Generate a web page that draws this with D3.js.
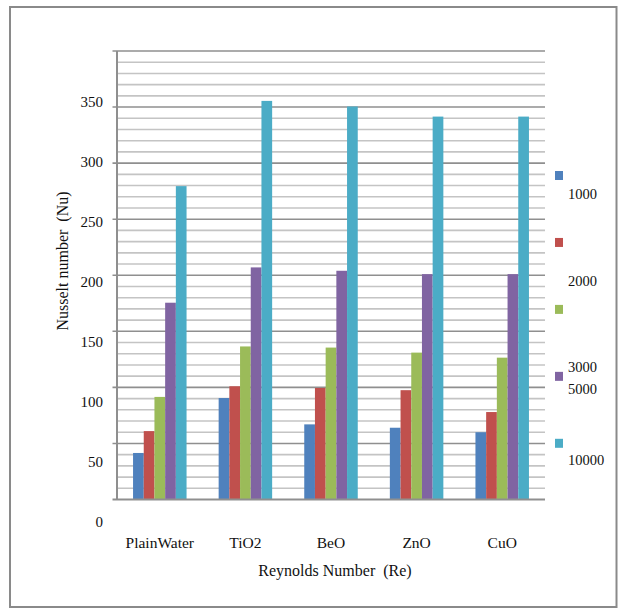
<!DOCTYPE html>
<html>
<head>
<meta charset="utf-8">
<script src="https://cdn.jsdelivr.net/npm/d3@7/dist/d3.min.js"></script>
<style>
  html, body { margin: 0; padding: 0; background: #ffffff; }
  svg { display: block; }
  svg text { font-family: 'Liberation Serif', 'Times New Roman', Times, 'DejaVu Serif', serif; }
</style>
</head>
<body>
<svg id="chart" width="619" height="609"></svg>
<script>
// Nusselt number for each fluid, one array per Reynolds number
const categories = ["PlainWater", "TiO2", "BeO", "ZnO", "CuO"];
const reynolds = ["1000", "2000", "3000", "5000", "10000"];
const nu1000  = [41.5, 90.5, 67, 64, 60];
const nu2000  = [61, 101, 99.5, 97.5, 78];
const nu3000  = [91.5, 136.5, 135.5, 131, 126.5];
const nu5000  = [175.5, 207, 204, 201, 201];
const nu10000 = [279.5, 355.5, 350.5, 341.5, 341.5];
const yTickLabels = [0, 50, 100, 150, 200, 250, 300, 350];
const seriesColors = ["#4f81bd", "#c0504d", "#9bbb59", "#8064a2", "#4bacc6"];

const serif = "'Liberation Serif', 'Times New Roman', Times, 'DejaVu Serif', serif";

const seriesValues = [nu1000, nu2000, nu3000, nu5000, nu10000];
const rows = categories.map((c, i) => ({
  category: c,
  values: reynolds.map((r, j) => ({ key: r, value: seriesValues[j][i] }))
}));

const svg = d3.select("#chart");

// outer frame
svg.append("rect")
  .attr("x", 10).attr("y", 7)
  .attr("width", 606.5).attr("height", 600)
  .attr("fill", "none").attr("stroke", "#8a8a8a").attr("stroke-width", 2);

const plot = { left: 117, right: 545, top: 51, bottom: 499.5 };

const x0 = d3.scaleBand().domain(categories).range([plot.left, plot.right]).paddingInner(0).paddingOuter(0);
const x1 = d3.scaleBand().domain(reynolds).range([0, x0.bandwidth()]).paddingInner(0).paddingOuter(1.5);
const y = d3.scaleLinear().domain([0, 400]).range([plot.bottom, plot.top]);
// the value labels of the axis sit on their own, slightly wider spacing
const yLabel = d3.scaleLinear().domain([0, 350]).range([521.7, 101.7]);

// gridlines: minor every 10, major every 50
const gridVals = d3.range(10, 401, 10);
svg.append("g").selectAll("line")
  .data(gridVals.filter(v => v % 50 !== 0))
  .join("line")
  .attr("x1", plot.left).attr("x2", plot.right)
  .attr("y1", d => y(d)).attr("y2", d => y(d))
  .attr("stroke", "#c4c4c4").attr("stroke-width", 1.6);

svg.append("g").selectAll("line")
  .data(gridVals.filter(v => v % 50 === 0))
  .join("line")
  .attr("x1", plot.left - 4.5).attr("x2", plot.right)
  .attr("y1", d => y(d)).attr("y2", d => y(d))
  .attr("stroke", "#8f8f8f").attr("stroke-width", 1.6);

// bars
const groups = svg.append("g").selectAll("g")
  .data(rows)
  .join("g")
  .attr("transform", d => `translate(${x0(d.category)},0)`);

groups.selectAll("rect")
  .data(d => d.values)
  .join("rect")
  .attr("x", d => x1(d.key))
  .attr("width", x1.bandwidth())
  .attr("y", d => y(d.value))
  .attr("height", d => y(0) - y(d.value))
  .attr("fill", (d, i) => seriesColors[i]);

// axis lines
svg.append("line")
  .attr("x1", plot.left).attr("x2", plot.left)
  .attr("y1", plot.top).attr("y2", plot.bottom)
  .attr("stroke", "#8f8f8f").attr("stroke-width", 2);
svg.append("line")
  .attr("x1", plot.left - 4.5).attr("x2", plot.right)
  .attr("y1", y(0)).attr("y2", y(0))
  .attr("stroke", "#8f8f8f").attr("stroke-width", 2);

// y tick labels
svg.append("g").selectAll("text")
  .data(yTickLabels)
  .join("text")
  .attr("x", 103)
  .attr("y", d => yLabel(d))
  .attr("dy", "0.35em")
  .attr("text-anchor", "end")
  .attr("font-family", serif)
  .attr("font-size", 15)
  .attr("fill", "#111")
  .text(d => d);

// category labels
svg.append("g").selectAll("text")
  .data(categories)
  .join("text")
  .attr("x", d => x0(d) + x0.bandwidth() / 2)
  .attr("y", 543)
  .attr("dy", "0.35em")
  .attr("text-anchor", "middle")
  .attr("font-family", serif)
  .attr("font-size", 15.5)
  .attr("fill", "#111")
  .text(d => d);

// axis titles
svg.append("text")
  .attr("x", 335).attr("y", 570)
  .attr("dy", "0.35em")
  .attr("text-anchor", "middle")
  .attr("font-family", serif)
  .attr("font-size", 16)
  .attr("fill", "#111")
  .style("white-space", "pre")
  .text("Reynolds Number  (Re)");

svg.append("text")
  .attr("transform", "translate(62,261) rotate(-90)")
  .attr("dy", "0.35em")
  .attr("text-anchor", "middle")
  .attr("font-family", serif)
  .attr("font-size", 16)
  .attr("fill", "#111")
  .style("white-space", "pre")
  .text("Nusselt number  (Nu)");

// legend: swatches in a column, labels set as rows of a text block
const legendY = d3.scaleLinear().domain([0, 4]).range([175.5, 443.3]);
const legendTextRows = [0, 4, 8, 9, 12.3];
const legendLineHeight = 21.6;

svg.append("g").selectAll("rect")
  .data(reynolds)
  .join("rect")
  .attr("x", 555)
  .attr("y", (d, i) => legendY(i) - 4.5)
  .attr("width", 8).attr("height", 9)
  .attr("fill", (d, i) => seriesColors[i]);

svg.append("g").selectAll("text")
  .data(reynolds)
  .join("text")
  .attr("x", 568)
  .attr("y", (d, i) => 194.3 + legendTextRows[i] * legendLineHeight)
  .attr("dy", "0.35em")
  .attr("font-family", serif)
  .attr("font-size", 14.5)
  .attr("fill", "#111")
  .text(d => d);
</script>
</body>
</html>
